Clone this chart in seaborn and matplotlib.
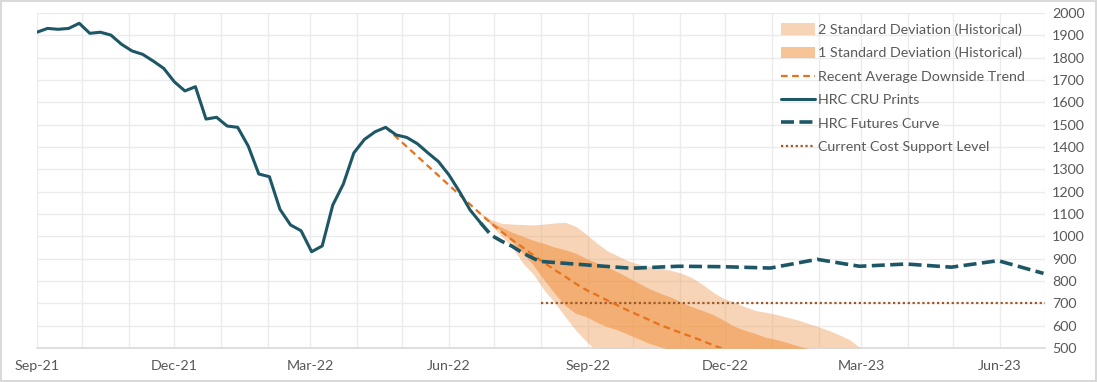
import pandas as pd
import numpy as np
import matplotlib
matplotlib.use('Agg')
import matplotlib.pyplot as plt
import matplotlib.dates as mdates
from matplotlib.patches import Patch
from matplotlib.lines import Line2D
import seaborn as sns

# ================= DATA =================
# weekly HRC CRU prints ($/st)
cru_start = '2021-09-01'
cru_values = [1914, 1931, 1927, 1931, 1954, 1909, 1914, 1901, 1860, 1830,
              1815, 1785, 1752, 1692, 1651, 1670, 1525, 1533, 1494, 1488,
              1404, 1279, 1267, 1121, 1051, 1025, 931, 957, 1140, 1234,
              1374, 1434, 1468, 1488, 1454, 1443, 1415, 1374, 1335, 1275,
              1200, 1118, 1060]

# HRC futures curve
fut_dates = ['2022-06-22', '2022-06-29', '2022-07-06', '2022-07-13', '2022-07-20',
             '2022-07-31', '2022-08-31', '2022-09-30', '2022-10-31', '2022-11-30',
             '2022-12-31', '2023-01-31', '2023-02-28', '2023-03-31', '2023-04-30',
             '2023-05-31', '2023-06-30']
fut_values = [1060, 1005, 978, 955, 925, 888, 872, 857, 866, 864,
              858, 897, 866, 876, 862, 891, 834]

# projection (weekly, from last print)
proj_start = '2022-06-22'
peak_date = '2022-04-20'
peak_value = 1488
trend_values = [1100, 1058, 1020, 983, 950, 915, 882, 850, 820, 788,
                760, 737, 713, 690, 667, 646, 625, 603, 585, 567,
                550, 532, 513, 495, 478, 462, 446, 430, 415, 400,
                386, 372, 358, 345, 332, 320, 308]
sd2_upper = [1103, 1075, 1058, 1055, 1053, 1051, 1055, 1060, 1063, 1045,
             1010, 970, 935, 912, 890, 875, 866, 858, 848, 835,
             815, 785, 750, 722, 705, 685, 668, 660, 650, 638,
             626, 610, 595, 578, 558, 535, 498]
sd2_lower = [1103, 1050, 1000, 950, 880, 830, 760, 705, 640, 580,
             530, 485, 450, 420, 395, 370, 350, 330, 310, 290,
             270, 255, 240, 225, 210, 195, 180, 170, 160, 150,
             140, 130, 120, 110, 100, 90, 80]
sd1_upper = [1100, 1065, 1040, 1018, 1000, 982, 968, 952, 940, 925,
             900, 882, 862, 840, 815, 790, 765, 745, 728, 705,
             685, 668, 650, 625, 597, 580, 565, 548, 538, 525,
             510, 498, 488, 478, 468, 458, 448]
sd1_lower = [1100, 1055, 1020, 975, 925, 870, 805, 745, 690, 655,
             640, 615, 595, 580, 560, 540, 520, 505, 490, 475,
             460, 445, 430, 415, 400, 385, 370, 355, 340, 325,
             310, 295, 280, 265, 250, 235, 220]

cost_dates = ['2022-08-01', '2023-07-01']
cost_values = [700, 700]

# ================= FRAMES =================
cru = pd.DataFrame({'date': pd.date_range(cru_start, periods=len(cru_values), freq='7D'),
                    'price': cru_values})
fut = pd.DataFrame({'date': pd.to_datetime(fut_dates), 'price': fut_values})
proj = pd.DataFrame({'date': pd.date_range(proj_start, periods=len(trend_values), freq='7D'),
                     'trend': trend_values,
                     'sd2_lo': sd2_lower, 'sd2_hi': sd2_upper,
                     'sd1_lo': sd1_lower, 'sd1_hi': sd1_upper})
trend = pd.concat([pd.DataFrame({'date': [pd.Timestamp(peak_date)], 'trend': [peak_value]}),
                   proj[['date', 'trend']]], ignore_index=True)
cost = pd.DataFrame({'date': pd.to_datetime(cost_dates), 'price': cost_values})

# ================= STYLE =================
sns.set_style('white')
plt.rcParams['font.family'] = ['Lato', 'DejaVu Sans']
TXT = '#595959'
GRID = '#ebebeb'
TEAL = '#1d5766'
ORANGE = '#e8711c'
BROWN = '#9c5a2a'
SD2 = '#f0a060'
SD1 = '#f08a30'
FUT_DASH = (0, (3.6, 1.5))
TREND_DASH = (0, (3, 2))
COST_DOT = (0, (1, 1.2))

fig = plt.figure(figsize=(10.97, 3.82), dpi=100)
fig.patch.set_edgecolor('#d9d9d9')
fig.patch.set_linewidth(1.5)
ax = fig.add_axes([37 / 1097, 34 / 382, 1008 / 1097, 335 / 382])

# bands
ax.fill_between(proj['date'], proj['sd2_lo'], proj['sd2_hi'], color=SD2, alpha=0.45,
                linewidth=0, zorder=2)
ax.fill_between(proj['date'], proj['sd1_lo'], proj['sd1_hi'], color=SD1, alpha=0.5,
                linewidth=0, zorder=3)

# lines
sns.lineplot(data=trend, x='date', y='trend', ax=ax, color=ORANGE, lw=1.6,
             linestyle=TREND_DASH, zorder=5)
sns.lineplot(data=cost, x='date', y='price', ax=ax, color=BROWN, lw=1.6,
             linestyle=COST_DOT, zorder=4)
sns.lineplot(data=fut, x='date', y='price', ax=ax, color=TEAL, lw=2.6,
             linestyle=FUT_DASH, zorder=6)
sns.lineplot(data=cru, x='date', y='price', ax=ax, color=TEAL, lw=2.2, zorder=7)

# axes
ax.set_xlim(pd.Timestamp('2021-09-01'), pd.Timestamp('2023-07-01'))
ax.set_ylim(500, 2000)
ax.set_yticks(np.arange(500, 2001, 100))
ax.yaxis.tick_right()
ax.tick_params(axis='y', length=0, pad=5, labelsize=10.3, labelcolor=TXT)
ax.xaxis.set_major_locator(mdates.MonthLocator(bymonth=[3, 6, 9, 12]))
ax.xaxis.set_major_formatter(mdates.DateFormatter('%b-%y'))
ax.xaxis.set_minor_locator(mdates.MonthLocator())
ax.tick_params(axis='x', which='major', length=5, color='#d9d9d9', pad=4,
               labelsize=10.3, labelcolor=TXT)
ax.tick_params(axis='x', which='minor', length=0)
ax.grid(True, which='both', axis='x', color=GRID, lw=1)
ax.grid(True, which='major', axis='y', color=GRID, lw=1)
ax.set_axisbelow(True)
for s in ['top', 'left', 'right']:
    ax.spines[s].set_visible(False)
ax.spines['bottom'].set_color('#d9d9d9')
ax.spines['bottom'].set_linewidth(1.2)
ax.set_xlabel('')
ax.set_ylabel('')

# legend
handles = [
    Patch(facecolor=SD2, alpha=0.45, edgecolor='none'),
    Patch(facecolor=SD1, alpha=0.5, edgecolor='none'),
    Line2D([], [], color=ORANGE, lw=1.6, linestyle=TREND_DASH),
    Line2D([], [], color=TEAL, lw=2.2),
    Line2D([], [], color=TEAL, lw=2.6, linestyle=FUT_DASH),
    Line2D([], [], color=BROWN, lw=1.6, linestyle=COST_DOT),
]
labels = ['2 Standard Deviation (Historical)', '1 Standard Deviation (Historical)',
          'Recent Average Downside Trend', 'HRC CRU Prints', 'HRC Futures Curve',
          'Current Cost Support Level']
leg = fig.legend(handles, labels, loc='upper left', bbox_to_anchor=(774 / 1097, 1 - 16 / 382),
                 frameon=False, fontsize=10.3, handlelength=2.4, handleheight=0.9,
                 handletextpad=0.15, labelspacing=0.74, borderpad=0)
for t in leg.get_texts():
    t.set_color(TXT)

plt.savefig('out.png', dpi=100)
